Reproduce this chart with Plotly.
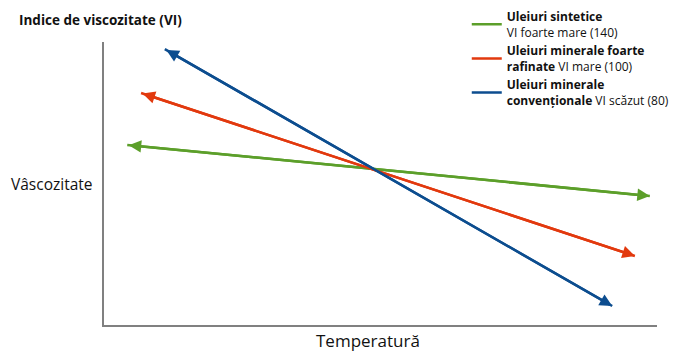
import plotly.graph_objects as go

# Series (data units: temperature 0-100, viscosity 0-100)
series_names = [
    "<b>Uleiuri sintetice</b><br>VI foarte mare (140)",
    "<b>Uleiuri minerale foarte<br>rafinate</b> VI mare (100)",
    "<b>Uleiuri minerale<br>convenționale</b> VI scăzut (80)",
]
colors = ["#5c9f2a", "#e2390e", "#0c4d8f"]
x_start = [4.2, 6.7, 11.0]
y_start = [63.6, 82.0, 97.5]
x_end = [98.7, 96.0, 91.9]
y_end = [45.6, 24.4, 6.7]

fig = go.Figure()
for name, c, xs, ys, xe, ye in zip(series_names, colors, x_start, y_start, x_end, y_end):
    fig.add_trace(go.Scatter(x=[xs, xe], y=[ys, ye], mode="lines", name=name,
                             line=dict(color=c, width=2.5), hoverinfo="skip"))
    fig.add_annotation(x=xe, y=ye, ax=xs, ay=ys, xref="x", yref="y", axref="x", ayref="y",
                       showarrow=True, arrowhead=2, arrowside="end+start", arrowsize=1.0,
                       arrowwidth=2.5, arrowcolor=c, text="")

fig.add_annotation(text="<b>Indice de viscozitate (VI)</b>", xref="paper", yref="paper",
                   x=-0.157, y=1.077, xanchor="left", yanchor="middle", showarrow=False,
                   font=dict(size=13.5, color="#111"))
fig.add_annotation(text="Vâscozitate", xref="paper", yref="paper",
                   x=-0.171, y=0.50, xanchor="left", yanchor="middle", showarrow=False,
                   font=dict(size=15.5, color="#111"))
fig.add_annotation(text="Temperatură", xref="paper", yref="paper",
                   x=0.477, y=-0.055, xanchor="center", yanchor="middle", showarrow=False,
                   font=dict(size=17, color="#111"))

fig.update_xaxes(range=[0, 100], showline=True, linecolor="#808080", linewidth=1.5,
                 showticklabels=False, showgrid=False, zeroline=False, ticks="")
fig.update_yaxes(range=[0, 100], showline=True, linecolor="#808080", linewidth=1.5,
                 showticklabels=False, showgrid=False, zeroline=False, ticks="")

fig.update_layout(
    width=672, height=348,
    margin=dict(l=96, r=23, t=34, b=31, autoexpand=False),
    paper_bgcolor="white", plot_bgcolor="white",
    font=dict(family="Open Sans", color="#111"),
    showlegend=True,
    legend=dict(x=0.656, y=1.141, xref="paper", yref="paper", xanchor="left", yanchor="top",
                font=dict(size=12, color="#111"), tracegroupgap=0, bgcolor="rgba(0,0,0,0)",
                itemwidth=30),
)

fig.write_html("out.html")
